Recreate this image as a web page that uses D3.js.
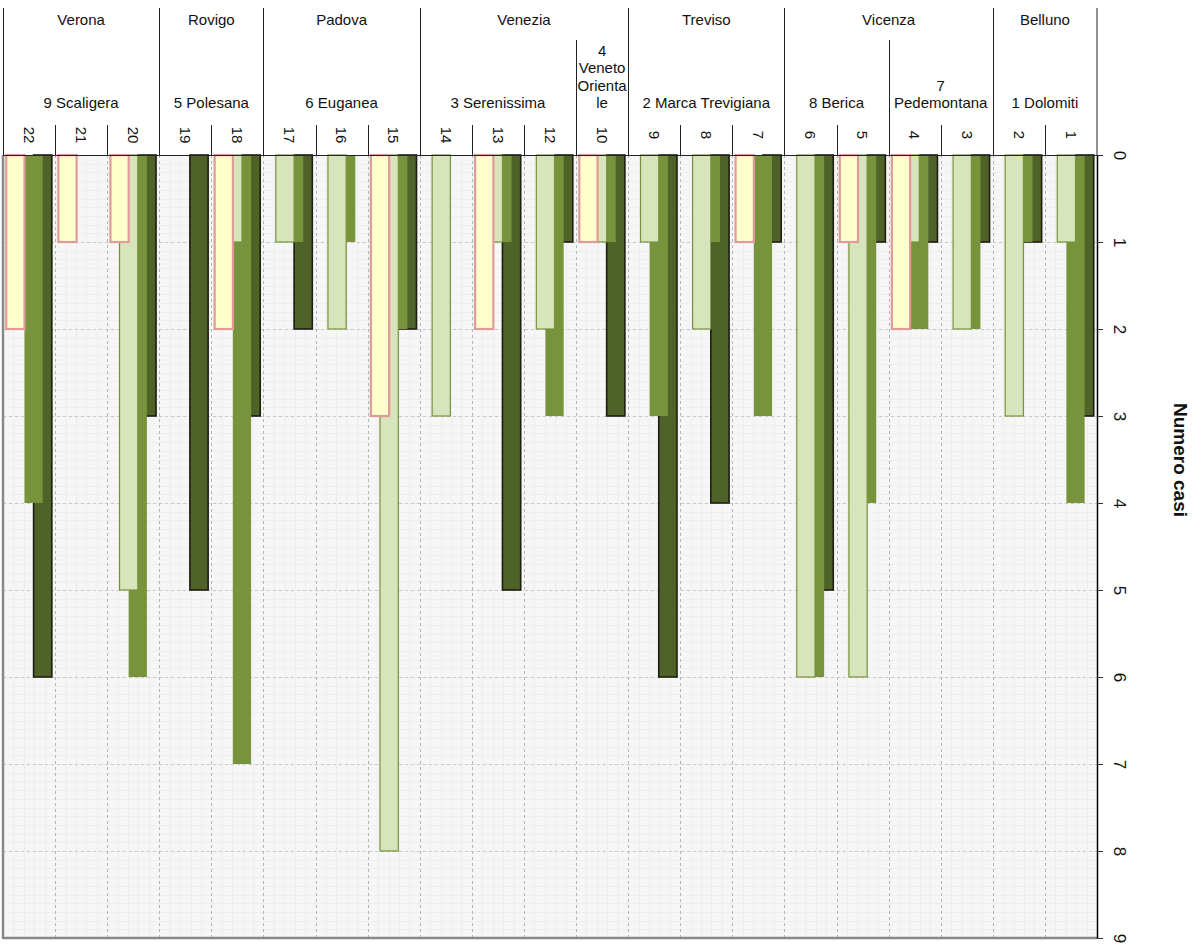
<!DOCTYPE html>
<html><head><meta charset="utf-8">
<script src="https://cdn.jsdelivr.net/npm/d3@7"></script>
<style>
body{margin:0;background:#fff;}
text{font-family:"Liberation Sans",Arial,Helvetica,sans-serif;fill:#111;}
</style>
</head><body>
<svg id="chart" width="1203" height="948"></svg>
<script>
// ---- data ----
const categories = ["22","21","20","19","18","17","16","15","14","13","12","10","9","8","7","6","5","4","3","2","1"];
const yellowValues = [2,1,1,0,2,0,0,3,0,2,0,1,0,0,1,0,1,2,0,0,0];
const lightValues  = [0,0,5,0,1,1,2,8,3,1,2,1,1,2,0,6,6,1,2,3,1];
const mediumValues = [4,0,6,0,7,1,1,2,0,1,3,1,3,1,3,6,4,2,2,1,4];
const darkValues   = [6,0,3,5,3,2,0,2,0,5,1,3,6,4,1,5,1,1,1,1,3];
const provinces = ["Verona","Rovigo","Padova","Venezia","Treviso","Vicenza","Belluno"];
const provinceSpans = [3,2,3,4,3,4,2];
const ulssNames = ["9 Scaligera","5 Polesana","6 Euganea","3 Serenissima","4 Veneto Orientale","2 Marca Trevigiana","8 Berica","7 Pedemontana","1 Dolomiti"];
const ulssSpans = [3,2,3,3,1,3,2,2,2];
const valueTicks = [0,1,2,3,4,5,6,7,8,9];
const axisTitle = "Numero casi";

const series = [
  {name:"yellow", values:yellowValues, fill:"#ffffcc", stroke:"#e09a9a", sw:2.2, idx:0},
  {name:"light",  values:lightValues,  fill:"#d8e4bc", stroke:"#77933c", sw:1.2, idx:1},
  {name:"medium", values:mediumValues, fill:"#77933c", stroke:"none",    sw:0,   idx:2},
  {name:"dark",   values:darkValues,   fill:"#4f6228", stroke:"#1d1d12", sw:1.6, idx:3}
];

// ---- layout ----
const L = 3, R = 1097, T = 155, B = 938;
const svg = d3.select("#chart");
const x = d3.scaleBand().domain(categories).range([L, R]).padding(0);
const y = d3.scaleLinear().domain([0, 9]).range([T, B]);
const bw = x.bandwidth();
const barW = bw * 0.35, step = bw * 0.175, pad = (bw - (barW + 3 * step)) / 2;

// background
svg.append("rect").attr("x", L).attr("y", T).attr("width", R - L).attr("height", B - T).attr("fill", "#f6f6f6");

// minor grid
const minor = svg.append("g").attr("stroke", "#eeeeee").attr("stroke-width", 1);
d3.range(1, 90).forEach(k => {
  const yy = Math.round(y(k / 10)) + 0.5;
  minor.append("line").attr("x1", L).attr("x2", R).attr("y1", yy).attr("y2", yy);
});
categories.forEach(c => {
  for (let k = 1; k < 5; k++) {
    const xx = Math.round(x(c) + bw * k / 5) + 0.5;
    minor.append("line").attr("x1", xx).attr("x2", xx).attr("y1", T).attr("y2", B);
  }
});

// major grid
const major = svg.append("g").attr("stroke", "#c8c8c8").attr("stroke-width", 1).attr("stroke-dasharray", "3,3");
valueTicks.filter(v => v > 0 && v < 9).forEach(v => {
  const yy = Math.round(y(v)) + 0.5;
  major.append("line").attr("x1", L).attr("x2", R).attr("y1", yy).attr("y2", yy);
});
categories.slice(1).forEach(c => {
  const xx = Math.round(x(c)) + 0.5;
  major.append("line").attr("x1", xx).attr("x2", xx).attr("y1", T).attr("y2", B).attr("stroke", "#b5b5b5");
});

// bars (dark drawn first, yellow on top)
const barsG = svg.append("g");
series.slice().reverse().forEach(s => {
  barsG.append("g").selectAll("rect")
    .data(categories.map((c, i) => ({c, v: s.values[i]})).filter(d => d.v > 0))
    .join("rect")
    .attr("x", d => x(d.c) + pad + s.idx * step)
    .attr("y", y(0))
    .attr("width", barW)
    .attr("height", d => y(d.v) - y(0))
    .attr("fill", s.fill)
    .attr("stroke", s.stroke)
    .attr("stroke-width", s.sw);
});

// plot borders
svg.append("line").attr("x1", L).attr("x2", L).attr("y1", T).attr("y2", B + 1).attr("stroke", "#888").attr("stroke-width", 2.5);
svg.append("line").attr("x1", L).attr("x2", R).attr("y1", B).attr("y2", B).attr("stroke", "#888").attr("stroke-width", 2.5);

// value axis on right
const axis = svg.append("g").attr("transform", `translate(${R},0)`)
  .call(d3.axisRight(y).tickValues(valueTicks).tickSize(6).tickSizeOuter(0).tickFormat(d3.format("d")));
axis.select(".domain").attr("stroke", "#000").attr("stroke-width", 1.5);
axis.selectAll(".tick line").attr("stroke", "#333");
axis.selectAll(".tick text")
  .attr("x", 0).attr("dy", "0.35em")
  .attr("transform", "translate(23,0) rotate(90)")
  .attr("text-anchor", "middle")
  .style("font-size", "17px")
  .style("font-family", "'Liberation Sans',Arial,sans-serif")
  .attr("fill", "#111");

svg.append("text").attr("transform", "translate(1181,460) rotate(90)")
  .attr("text-anchor", "middle").attr("dy", "0.35em")
  .style("font-size", "19px").style("font-weight", "bold").text(axisTitle);

// ---- header ----
const hdr = svg.append("g").attr("stroke", "#222").attr("stroke-width", 1);
hdr.append("line").attr("x1", L).attr("x2", R + 6).attr("y1", T + 0.5).attr("y2", T + 0.5);
hdr.append("line").attr("x1", L + 0.5).attr("x2", L + 0.5).attr("y1", 8).attr("y2", T);
hdr.append("line").attr("x1", R).attr("x2", R).attr("y1", 8).attr("y2", T);

function boundaries(spans) {
  const out = []; let acc = 0;
  spans.forEach(s => { out.push(acc); acc += s; });
  return out;
}
const provStarts = boundaries(provinceSpans);
const ulssStarts = boundaries(ulssSpans);
categories.forEach((c, i) => {
  if (i === 0) return;
  let top = 125;
  if (provStarts.includes(i)) top = 8;
  else if (ulssStarts.includes(i)) top = 40;
  const xx = Math.round(x(c)) + 0.5;
  hdr.append("line").attr("x1", xx).attr("x2", xx).attr("y1", top).attr("y2", T);
});

// province labels
provinces.forEach((p, i) => {
  const x0 = x(categories[provStarts[i]]);
  const x1 = x0 + provinceSpans[i] * bw;
  svg.append("text").attr("x", (x0 + x1) / 2).attr("y", 24.5)
    .attr("text-anchor", "middle").style("font-size", "15px").text(p);
});

// ulss labels with wrapping (bottom aligned)
function wrapLines(str, maxW, measure) {
  const words = str.split(" ");
  const lines = [];
  let cur = "";
  const pushWord = w => {
    if (measure(w) <= maxW) return [w];
    const parts = []; let p = "";
    for (const ch of w) {
      if (measure(p + ch) > maxW && p) { parts.push(p); p = ch; } else p += ch;
    }
    if (p) parts.push(p);
    return parts;
  };
  words.forEach(w => {
    const test = cur ? cur + " " + w : w;
    if (measure(test) <= maxW) { cur = test; return; }
    if (cur) lines.push(cur);
    const parts = pushWord(w);
    parts.slice(0, -1).forEach(pp => lines.push(pp));
    cur = parts[parts.length - 1];
  });
  if (cur) lines.push(cur);
  return lines;
}
const probe = svg.append("text").style("font-size", "15px").attr("visibility", "hidden");
const measure = s => { probe.text(s); return probe.node().getComputedTextLength(); };
ulssNames.forEach((u, i) => {
  const x0 = x(categories[ulssStarts[i]]);
  const w = ulssSpans[i] * bw;
  const lines = wrapLines(u, w - 2.5, measure);
  const t = svg.append("text").attr("text-anchor", "middle").style("font-size", "15px");
  lines.forEach((ln, k) => {
    t.append("tspan").attr("x", x0 + w / 2)
      .attr("y", 108 - (lines.length - 1 - k) * 17.3).text(ln);
  });
});
probe.remove();

// category labels (rotated)
categories.forEach(c => {
  svg.append("text").attr("transform", `translate(${x(c) + bw / 2},135) rotate(90)`)
    .attr("text-anchor", "middle").attr("dy", "0.35em").style("font-size", "15px").text(c);
});
</script>
</body></html>
